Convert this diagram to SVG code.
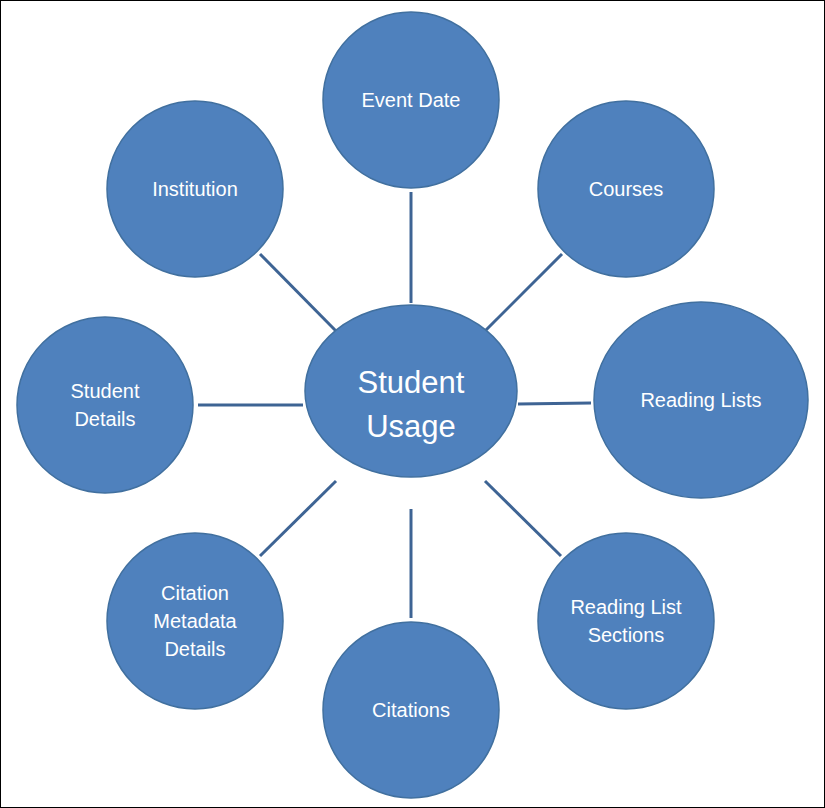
<svg xmlns="http://www.w3.org/2000/svg" width="825" height="808" viewBox="0 0 825 808">
<style>
.n{fill:#4F81BD;stroke:#41709F;stroke-width:1.5}
.t{fill:#fff;font-family:"Liberation Sans",Arial,sans-serif;font-size:20px;text-anchor:middle}
.c{font-size:31px}
#connectors line{stroke:#3E6494;stroke-width:3}
</style>
<rect x="0.5" y="0.5" width="824" height="807" fill="#fff" stroke="#000"/>
<g id="connectors">
<line x1="411" y1="192" x2="411" y2="303"/>
<line x1="562" y1="254" x2="485" y2="331"/>
<line x1="260" y1="254" x2="336" y2="331"/>
<line x1="198" y1="405" x2="303" y2="405"/>
<line x1="518" y1="404" x2="591" y2="403"/>
<line x1="485" y1="481" x2="561" y2="556"/>
<line x1="411" y1="509" x2="411" y2="618"/>
<line x1="336" y1="481" x2="260" y2="556"/>
</g>
<g id="center"><ellipse class="n" cx="411" cy="391" rx="106" ry="86"/><text class="t c" x="411" y="393">Student</text><text class="t c" x="411" y="437">Usage</text></g>
<g id="event"><circle class="n" cx="411" cy="100" r="88"/><text class="t" x="411" y="107">Event Date</text></g>
<g id="courses"><circle class="n" cx="626" cy="189" r="88"/><text class="t" x="626" y="196">Courses</text></g>
<g id="institution"><circle class="n" cx="195" cy="189" r="88"/><text class="t" x="195" y="196">Institution</text></g>
<g id="student"><circle class="n" cx="105" cy="405" r="88"/><text class="t" x="105" y="398">Student</text><text class="t" x="105" y="426">Details</text></g>
<g id="lists"><ellipse class="n" cx="701" cy="400" rx="107" ry="98"/><text class="t" x="701" y="407">Reading Lists</text></g>
<g id="sections"><circle class="n" cx="626" cy="621" r="88"/><text class="t" x="626" y="614">Reading List</text><text class="t" x="626" y="642">Sections</text></g>
<g id="citations"><circle class="n" cx="411" cy="710" r="88"/><text class="t" x="411" y="717">Citations</text></g>
<g id="metadata"><circle class="n" cx="195" cy="621" r="88"/><text class="t" x="195" y="600">Citation</text><text class="t" x="195" y="628">Metadata</text><text class="t" x="195" y="656">Details</text></g>
</svg>
